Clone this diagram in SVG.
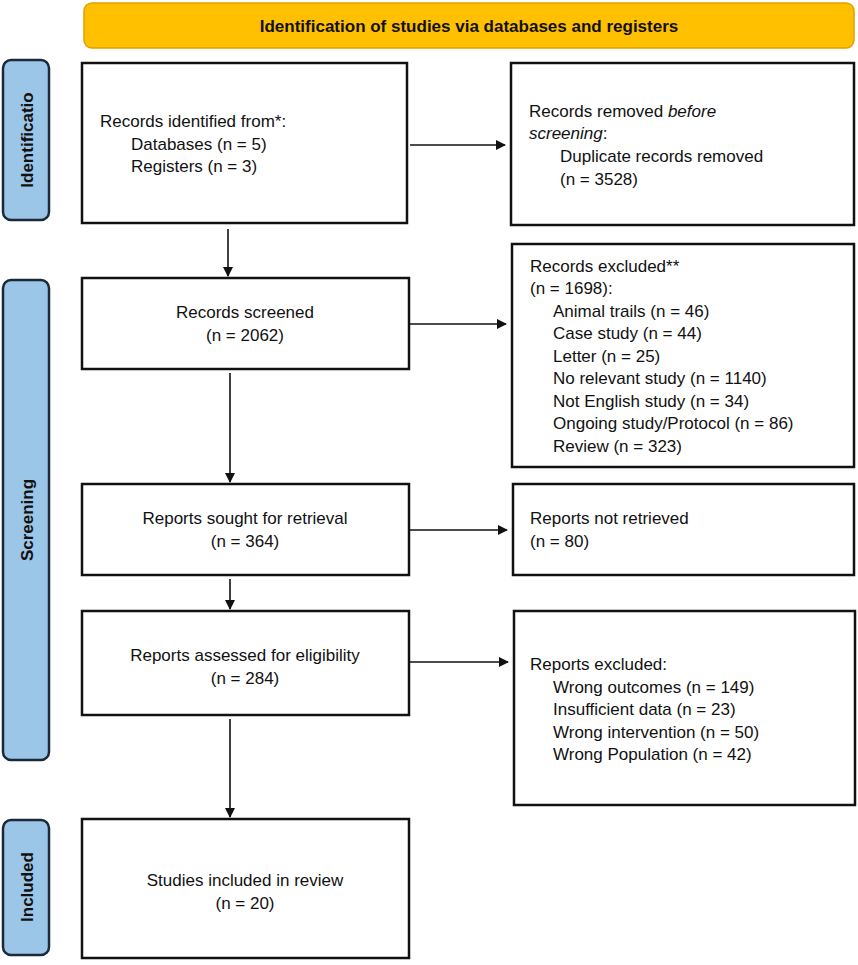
<svg xmlns="http://www.w3.org/2000/svg" width="858" height="965" viewBox="0 0 858 965">
<style>
text{font-family:"Liberation Sans",Arial,sans-serif;font-size:17px;fill:#111}
.box{fill:#fff;stroke:#111;stroke-width:2.5}
.side{fill:#9cc6e8;stroke:#1a2a3a;stroke-width:2.5}
.sl{font-weight:bold;font-size:17px}
.c{stroke:#111;stroke-width:1.6;fill:none;marker-end:url(#a)}
</style>
<defs><marker id="a" markerWidth="10" markerHeight="10" refX="9" refY="5" orient="auto" markerUnits="userSpaceOnUse"><path d="M0,0L10,5L0,10z" fill="#111"/></marker></defs>
<g id="header"><rect x="84" y="3" width="770" height="45" rx="8" fill="#FFC000" stroke="#e0a000" stroke-width="1.5"/><text x="469" y="32" text-anchor="middle" style="font-weight:bold">Identification of studies via databases and registers</text></g>
<g id="lab-ident"><rect x="3" y="60" width="46" height="160" rx="8" class="side"/><text class="sl" transform="translate(33,140) rotate(-90)" text-anchor="middle">Identificatio</text></g>
<g id="lab-screen"><rect x="3" y="280" width="46" height="480" rx="8" class="side"/><text class="sl" transform="translate(33,520) rotate(-90)" text-anchor="middle">Screening</text></g>
<g id="lab-incl"><rect x="3" y="820" width="46" height="135" rx="8" class="side"/><text class="sl" transform="translate(33,887) rotate(-90)" text-anchor="middle">Included</text></g>
<g id="n1"><rect x="82" y="63" width="325" height="160" class="box"/><text x="100" y="127">Records identified from*:</text><text x="131" y="150">Databases (n = 5)</text><text x="131" y="172">Registers (n = 3)</text></g>
<g id="n2"><rect x="511" y="63" width="343" height="162" class="box"/><text x="529" y="117">Records removed <tspan font-style="italic">before</tspan></text><text x="529" y="139" font-style="italic">screening<tspan font-style="normal">:</tspan></text><text x="560" y="162">Duplicate records removed</text><text x="560" y="185">(n = 3528)</text></g>
<g id="n3"><rect x="82" y="278" width="327" height="91" class="box"/><text x="245" y="318" text-anchor="middle">Records screened</text><text x="245" y="341" text-anchor="middle">(n = 2062)</text></g>
<g id="n4"><rect x="512" y="244" width="342" height="223" class="box"/><text x="530" y="272">Records excluded**</text><text x="530" y="294">(n = 1698):</text><text x="553" y="317">Animal trails (n = 46)</text><text x="553" y="339">Case study (n = 44)</text><text x="553" y="362">Letter (n = 25)</text><text x="553" y="384">No relevant study (n = 1140)</text><text x="553" y="407">Not English study (n = 34)</text><text x="553" y="429">Ongoing study/Protocol (n = 86)</text><text x="553" y="452">Review (n = 323)</text></g>
<g id="n5"><rect x="82" y="484" width="327" height="91" class="box"/><text x="245" y="524" text-anchor="middle">Reports sought for retrieval</text><text x="245" y="547" text-anchor="middle">(n = 364)</text></g>
<g id="n6"><rect x="513" y="484" width="341" height="91" class="box"/><text x="530" y="524">Reports not retrieved</text><text x="530" y="547">(n = 80)</text></g>
<g id="n7"><rect x="82" y="611" width="327" height="104" class="box"/><text x="245" y="661" text-anchor="middle">Reports assessed for eligibility</text><text x="245" y="684" text-anchor="middle">(n = 284)</text></g>
<g id="n8"><rect x="514" y="611" width="341" height="194" class="box"/><text x="530" y="670">Reports excluded:</text><text x="553" y="693">Wrong outcomes (n = 149)</text><text x="553" y="715">Insufficient data (n = 23)</text><text x="553" y="738">Wrong intervention (n = 50)</text><text x="553" y="760">Wrong Population (n = 42)</text></g>
<g id="n9"><rect x="82" y="819" width="327" height="139" class="box"/><text x="245" y="886" text-anchor="middle">Studies included in review</text><text x="245" y="909" text-anchor="middle">(n = 20)</text></g>
<g id="connectors">
<path class="c" d="M228,229V276"/>
<path class="c" d="M230,373V482"/>
<path class="c" d="M230,579V609"/>
<path class="c" d="M230,719V817"/>
<path class="c" d="M410,145H505"/>
<path class="c" d="M410,324H506"/>
<path class="c" d="M410,530H507"/>
<path class="c" d="M410,662H508"/>
</g>
</svg>
